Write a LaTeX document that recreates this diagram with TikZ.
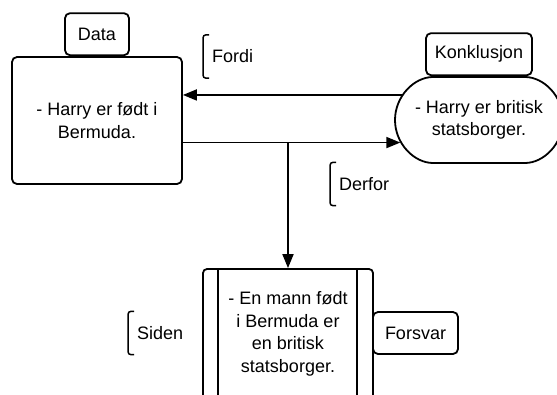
\documentclass[tikz,border=0pt]{standalone}
\usepackage{fontspec}
\setmainfont{Liberation Sans}
\usepackage{tikz}
\usetikzlibrary{arrows.meta,positioning,shapes.misc,calc}
\tikzset{
  claimbox/.style={rectangle,rounded corners=5pt,draw=black,fill=white,line width=1.8pt,
    align=center,font=\fontsize{18}{22.5}\selectfont,inner sep=0pt},
  tabbox/.style={rectangle,rounded corners=5pt,draw=black,fill=white,line width=1.8pt,
    minimum height=42pt,font=\fontsize{18}{22}\selectfont,inner sep=0pt},
  note/.style={anchor=west,minimum height=43pt,inner xsep=9pt,inner ysep=0pt,
    font=\fontsize{18}{22}\selectfont},
  bracket/.style={line width=1.5pt,rounded corners=3pt},
  flow/.style={-{Triangle[length=14pt,width=11pt]},line width=1.8pt},
}
\begin{document}
\begin{tikzpicture}[x=1pt,y=-1pt]
  \useasboundingbox[fill=white] (0,0) rectangle (557,394);
  \clip (0,0) rectangle (557,394);
  % main boxes
  \node[claimbox,minimum width=170pt,minimum height=127pt] (data) at (97,120.5)
    {- Harry er født i\\Bermuda.};
  \node[claimbox,rounded rectangle,minimum width=168pt,minimum height=86pt] (konkl) at (479,120)
    {- Harry er britisk\\statsborger.};
  \node[claimbox,rounded corners=4pt,minimum width=170pt,minimum height=130pt] (hjemmel) at (288,334)
    {- En mann født\\i Bermuda er\\en britisk\\statsborger.};
  \draw[line width=1.8pt] ([xshift=16pt]hjemmel.north west) -- ([xshift=16pt]hjemmel.south west);
  \draw[line width=1.8pt] ([xshift=-17pt]hjemmel.north east) -- ([xshift=-17pt]hjemmel.south east);
  % tabs
  \node[tabbox,minimum width=64pt,anchor=south] (datatab) at (data.north) {Data};
  \node[tabbox,minimum width=106pt,anchor=south] (konkltab) at (konkl.north) {Konklusjon};
  \node[tabbox,minimum width=85pt] (forsvar) at (415.5,333) {Forsvar};
  % notes
  \node[note] (fordi) at (203,56.5) {Fordi};
  \node[note] (derfor) at (330,184) {Derfor};
  \node[note] (siden) at (128,333) {Siden};
  \foreach \n in {fordi,derfor,siden}
    \draw[bracket] ([xshift=6pt]\n.north west) -| (\n.west) |- ([xshift=6pt]\n.south west);
  % connectors
  \draw[flow] (konkl.162) -- (data.east |- konkl.162);
  \draw[flow] (data.east |- konkl.196) -- (konkl.196);
  \coordinate (split) at (hjemmel.north |- konkl.196);
  \draw[flow] (split) -- (hjemmel.north);
\end{tikzpicture}
\end{document}
